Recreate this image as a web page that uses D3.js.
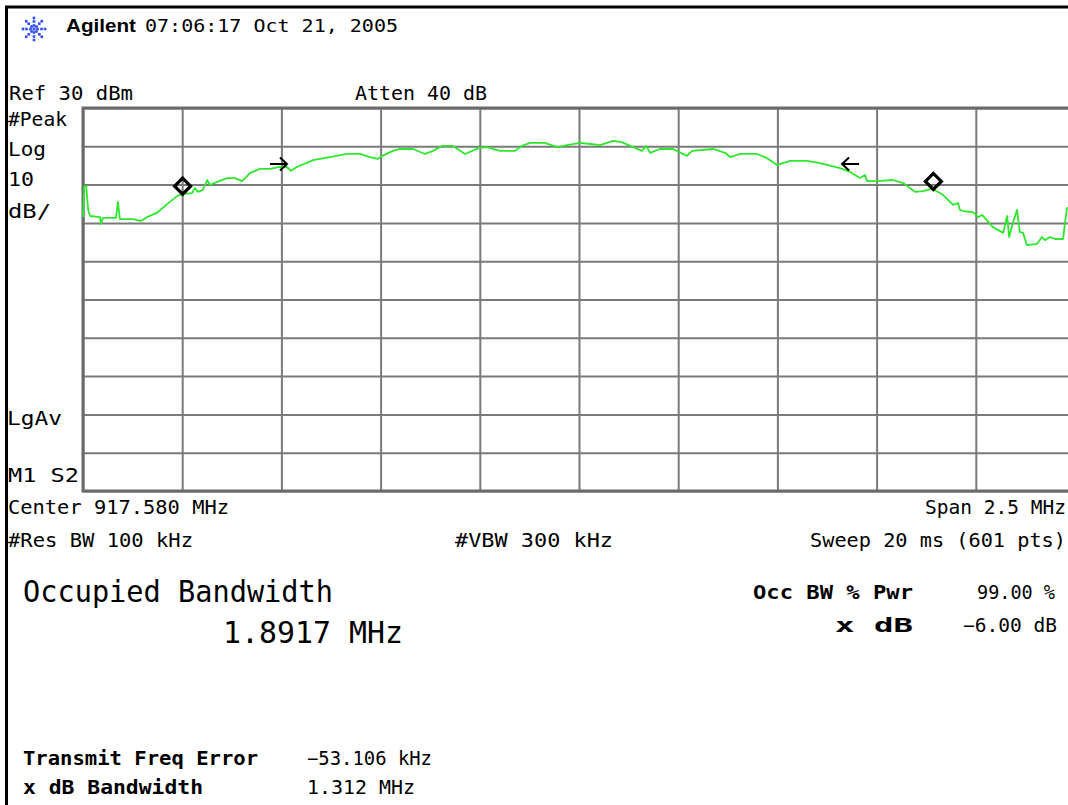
<!DOCTYPE html>
<html>
<head>
<meta charset="utf-8">
<script src="https://cdn.jsdelivr.net/npm/d3@7"></script>
<style>
  body { margin: 0; background: #fff; }
  svg { display: block; }
</style>
</head>
<body>
<script>
// Analyzer settings
let centerMHz = 917.580;
let spanKHz = 2500;
let refLevel = 30;
let dbPerDiv = 10;
let divisions = 10;

// Trace: frequency offset from center (kHz) and level (dBm)
let traceKHz = [-1250, -1247, -1242, -1237, -1232, -1207, -1205, -1200, -1167, -1162,
  -1157, -1124, -1106, -1099, -1089, -1064, -1038, -1013, -1000, -975,
  -968, -960, -948, -937, -930, -912, -887, -867, -849, -829,
  -804, -779, -754, -736, -726, -711, -670, -628, -585, -552,
  -527, -507, -496, -469, -451, -418, -388, -368, -345, -318,
  -287, -252, -232, -199, -161, -144, -123, -86, -55, -30,
  3, 28, 53, 86, 108, 129, 159, 169, 179, 204,
  237, 272, 285, 338, 368, 381, 406, 449, 474, 499,
  514, 532, 575, 607, 658, 683, 708, 721, 726, 751,
  791, 817, 847, 867, 890, 915, 943, 955, 960, 968,
  993, 1006, 1016, 1043, 1069, 1079, 1084, 1094, 1104, 1111,
  1119, 1129, 1154, 1167, 1174, 1187, 1200, 1220, 1225, 1230, 1250];
let traceDBm = [1.5, 9.6, 9.6, 3.4, 1.8, 1.5, -0.3, 1.3, 1.3, 5.5,
  1.0, 1.0, 0.5, 0.8, 1.5, 2.6, 4.9, 7.0, 7.5, 7.8,
  9.1, 8.1, 8.6, 11.2, 9.9, 10.7, 11.7, 11.7, 10.9, 13.0,
  14.1, 14.1, 14.6, 14.6, 13.6, 14.6, 16.4, 17.2, 18.0, 18.0,
  17.2, 16.7, 17.5, 18.8, 19.3, 19.3, 18.0, 18.8, 20.1, 20.1,
  18.0, 19.6, 19.8, 18.8, 18.8, 20.1, 20.9, 20.9, 19.8, 20.3,
  20.9, 20.6, 20.3, 21.4, 21.1, 20.1, 18.8, 20.1, 18.3, 19.3,
  19.3, 17.5, 18.8, 19.3, 18.3, 17.2, 18.0, 18.0, 16.9, 15.1,
  15.6, 16.2, 16.2, 15.6, 14.3, 13.3, 11.7, 12.5, 10.9, 10.9,
  11.2, 10.4, 8.1, 8.3, 8.9, 7.5, 4.7, 5.2, 3.4, 3.1,
  2.8, 1.5, 2.1, -1.1, -2.6, 1.8, -3.7, 0.2, 3.4, -2.4,
  -2.6, -5.8, -5.5, -3.7, -4.5, -3.7, -4.2, -4.2, 0.2, 3.9, 4.7];

// Occupied bandwidth edges (diamonds) and x dB edges (arrows), kHz from center
let obwEdgesKHz = [-999, 893];
let xdbEdgesKHz = [-736, 663];
let xdbOffset = -6;

let W = 1068, H = 805;
let plot = { left: 83, top: 108, width: 992, height: 383 };

let svg = d3.select("body").append("svg")
  .attr("width", W).attr("height", H);

// outer frame of the screen capture
svg.append("path")
  .attr("d", "M6.5," + H + "V7H" + W)
  .attr("fill", "none").attr("stroke", "#000").attr("stroke-width", 3);

let x = d3.scaleLinear()
  .domain([-spanKHz / 2, spanKHz / 2])
  .range([plot.left, plot.left + plot.width]);
let y = d3.scaleLinear()
  .domain([refLevel - dbPerDiv * divisions, refLevel])
  .range([plot.top + plot.height, plot.top]);

// Grid from the axes
let xTicks = d3.range(divisions + 1).map(i => -spanKHz / 2 + i * spanKHz / divisions);
let yTicks = d3.range(divisions + 1).map(i => refLevel - i * dbPerDiv);

let gx = svg.append("g")
  .attr("transform", "translate(0," + (plot.top + plot.height) + ")")
  .call(d3.axisBottom(x).tickValues(xTicks).tickSize(-plot.height).tickFormat(""));
let gy = svg.append("g")
  .attr("transform", "translate(" + plot.left + ",0)")
  .call(d3.axisLeft(y).tickValues(yTicks).tickSize(-plot.width).tickFormat(""));
[gx, gy].forEach(g => {
  g.select(".domain").remove();
  g.selectAll(".tick line").attr("stroke", "#7a7a7a").attr("stroke-width", 2);
});
svg.append("rect")
  .attr("x", plot.left).attr("y", plot.top)
  .attr("width", plot.width).attr("height", plot.height)
  .attr("fill", "none").attr("stroke", "#6a6a6a").attr("stroke-width", 3);

// Trace
let trace = traceKHz.map((f, i) => ({ f: f, v: traceDBm[i] }));
let line = d3.line().x(d => x(d.f)).y(d => y(d.v));
svg.append("path")
  .datum(trace)
  .attr("d", line)
  .attr("fill", "none")
  .attr("stroke", "#2ee82e")
  .attr("stroke-width", 1.8)
  .attr("stroke-linejoin", "round");

function levelAt(f) {
  let i = d3.bisector(d => d.f).left(trace, f);
  let a = trace[Math.max(0, i - 1)], b = trace[Math.min(trace.length - 1, i)];
  if (a.f === b.f) return a.v;
  return a.v + (b.v - a.v) * (f - a.f) / (b.f - a.f);
}

// Diamond markers sit on the trace
svg.selectAll(".obw").data(obwEdgesKHz).enter()
  .append("path")
    .attr("class", "obw")
    .attr("d", d => {
      let cx = x(d), cy = y(levelAt(d)) - 8, r = 8;
      return "M" + cx + "," + (cy - r) + "L" + (cx + r) + "," + cy +
        "L" + cx + "," + (cy + r) + "L" + (cx - r) + "," + cy + "Z";
    })
    .attr("fill", "none").attr("stroke", "#000").attr("stroke-width", 3.2);

// Arrows at the x dB level
let peak = d3.max(traceDBm);
let arrowY = y(peak + xdbOffset);
svg.selectAll(".xdb").data(xdbEdgesKHz).enter()
  .append("path")
    .attr("class", "xdb")
    .attr("d", (d, i) => {
      let tip = x(d), dir = i === 0 ? -1 : 1;
      let tail = tip + dir * 17;
      return "M" + tail + "," + arrowY + "H" + tip +
        "M" + (tip + dir * 7) + "," + (arrowY - 6.5) + "L" + tip + "," + arrowY +
        "L" + (tip + dir * 7) + "," + (arrowY + 6.5);
    })
    .attr("fill", "none").attr("stroke", "#000").attr("stroke-width", 2);

// Agilent spark logo
let logo = svg.append("g").attr("transform", "translate(34,29)");
d3.range(8).forEach(k => {
  let a = k * Math.PI / 4;
  [3.5, 7.5, 11].forEach(r => {
    logo.append("rect")
      .attr("x", r * Math.cos(a) - 1.3).attr("y", r * Math.sin(a) - 1.3)
      .attr("width", 2.6).attr("height", 2.6)
      .attr("fill", "#2f4cff");
  });
});
logo.append("rect").attr("x", -1.4).attr("y", -1.4).attr("width", 2.8).attr("height", 2.8).attr("fill", "#2f4cff");

// Text
let mono = "'DejaVu Sans Mono', monospace";
function label(t, x0, y0, len, opts) {
  opts = opts || {};
  let el = svg.append("text")
    .attr("x", x0).attr("y", y0)
    .attr("font-family", opts.family || mono)
    .attr("font-size", opts.size || 19)
    .attr("font-weight", opts.weight || "normal")
    .attr("text-anchor", opts.anchor || "start")
    .attr("fill", "#000")
    .text(t);
  if (len) el.attr("textLength", len).attr("lengthAdjust", "spacingAndGlyphs");
  return el;
}

label("Agilent", 66, 32, 70, { family: "'Liberation Sans', Arial, sans-serif", weight: "bold", size: 18 });
label("07:06:17  Oct 21, 2005", 145, 32, 253, { size: 18 });

label("Ref " + refLevel + " dBm", 9, 100, 124);
label("Atten 40 dB", 355, 100, 132);
label("#Peak", 8, 126, 59);
label("Log", 8, 156, 38);
label(String(dbPerDiv), 8, 186, 26);
label("dB/", 8, 218, 43);
label("LgAv", 7, 425, 55);
label("M1  S2", 8, 482, 71);
label("Center " + centerMHz.toFixed(3) + " MHz", 8, 514, 221);
label("Span " + (spanKHz / 1000) + " MHz", 1066, 514, 141, { anchor: "end" });
label("#Res BW 100 kHz", 8, 547, 185);
label("#VBW 300 kHz", 455, 547, 158);
label("Sweep 20 ms (601 pts)", 1066, 547, 256, { anchor: "end" });

label("Occupied Bandwidth", 23, 602, 310, { size: 30 });
label("1.8917 MHz", 223, 643, 180, { size: 30 });

label("Occ BW % Pwr", 753, 599, 160, { size: 20, weight: "bold" });
label("99.00 %", 1055, 599, 78, { anchor: "end" });
label("x dB", 913, 632, 78, { size: 20, weight: "bold", anchor: "end" });
label("\u22126.00 dB", 1057, 632, 94, { anchor: "end" });

label("Transmit Freq Error", 23, 765, 235, { size: 20, weight: "bold" });
label("\u221253.106 kHz", 307, 765, 125);
label("x dB Bandwidth", 23, 794, 180, { size: 20, weight: "bold" });
label("1.312 MHz", 307, 794, 108);
</script>
</body>
</html>
